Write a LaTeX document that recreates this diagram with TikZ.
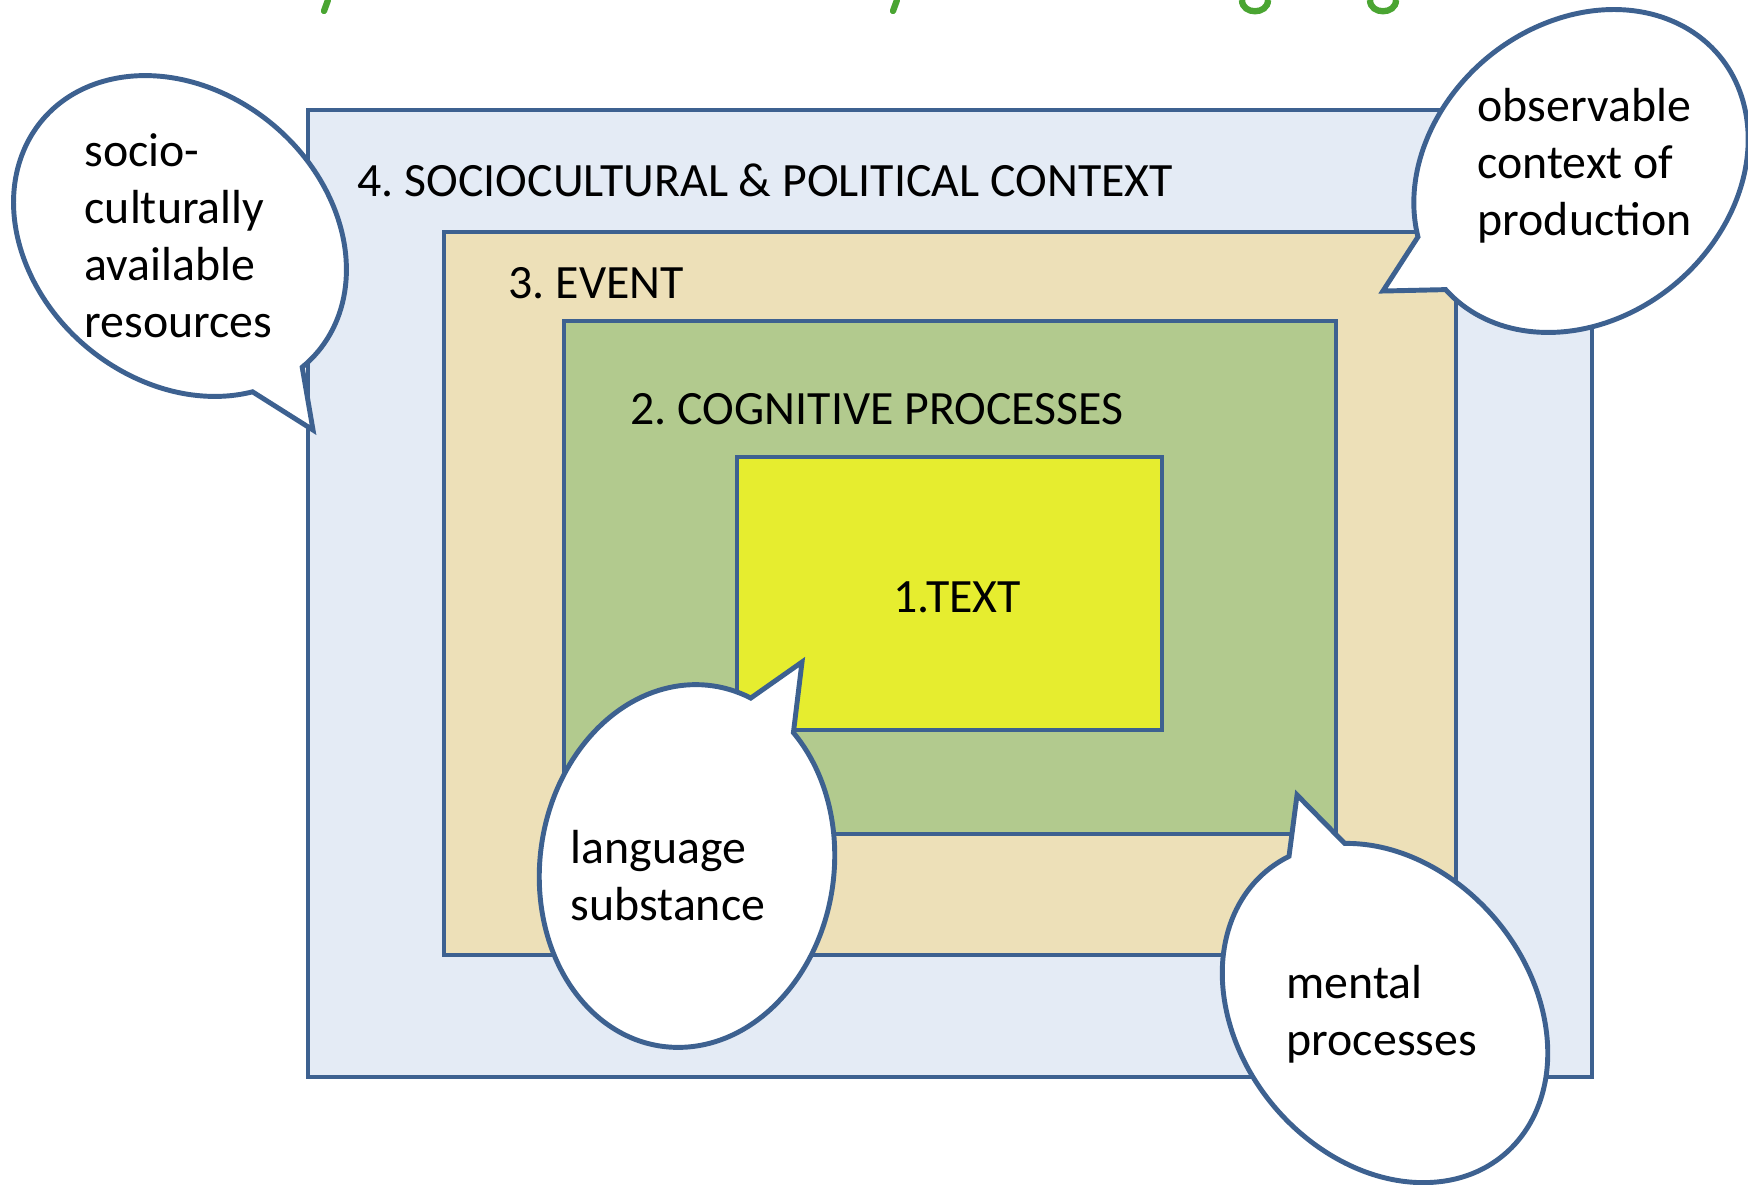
\documentclass[tikz,border=0pt]{standalone}
\usepackage{fontspec}
\setmainfont{Carlito}
\frenchspacing
\usetikzlibrary{positioning}
\definecolor{edgeblue}{HTML}{3D6190}
\definecolor{ctxblue}{HTML}{E4EBF5}
\definecolor{eventtan}{HTML}{EDE0B8}
\definecolor{cogngreen}{HTML}{B2CA8E}
\definecolor{textyellow}{HTML}{E6ED2F}
\definecolor{titlegreen}{HTML}{4AA532}
\tikzset{layer/.style = {draw = edgeblue, line width = 1.4pt}}
\tikzset{bubble/.style = {draw = edgeblue, fill = white, line width = 1.4pt}}
\tikzset{lbl/.style = {inner sep = 0, anchor = base west, font = \fontsize{13.6}{16.2}\selectfont}}
\tikzset{note/.style = {lbl, align = left}}

\begin{document}
\begin{tikzpicture}[x = 0.01cm, y = -0.01cm]
      \useasboundingbox (0, 0) rectangle (1748, 1184);
      \draw [titlegreen, line width = 1.8pt, line cap = round] (328, 0) -- (324, 11);
      \draw [titlegreen, line width = 1.8pt, line cap = round] (897, 0) -- (893, 11);
      \draw [titlegreen, line width = 1.8pt] (1242, 0) .. controls (1242, 15) and (1268, 15) .. (1268, 0);
      \draw [titlegreen, line width = 1.8pt] (1370, 0) .. controls (1370, 15) and (1396, 15) .. (1396, 0);
      \draw [layer, fill = ctxblue] (308, 110) rectangle (1592, 1077);
      \draw [layer, fill = eventtan] (444, 232) rectangle (1456, 955);
      \draw [layer, fill = cogngreen] (564, 321) rectangle (1336, 834);
      \draw [layer, fill = textyellow] (737, 457) rectangle (1162, 730);
      \node [lbl] (ctx) at (357, 196) {4. SOCIOCULTURAL \& POLITICAL CONTEXT};
      \node [lbl] (event) at (508, 298) {3. EVENT};
      \node [lbl] (cogn) at (630, 424) {2. COGNITIVE PROCESSES};
      \node [lbl, anchor = base] (text) at (957, 612) {1.TEXT};
      \begin{scope}[shift = {(180, 236)}, rotate = -40]
        \draw [bubble] (30.1:180 and 145) arc [start angle = 30.1, end angle = 368.7, x radius = 180, y radius = 145] -- (226.6, 63.1) -- cycle;
      \end{scope}
      \begin{scope}[shift = {(1581, 171)}, rotate = 40]
        \draw [bubble] (201.7:180 and 147) arc [start angle = 201.7, end angle = 538.5, x radius = 180, y radius = 147] -- (-228.9, -35.4) -- cycle;
      \end{scope}
      \begin{scope}[shift = {(687, 866)}, rotate = -8]
        \draw [bubble] (306.2:147 and 182) arc [start angle = 306.2, end angle = 645.7, x radius = 147, y radius = 182] -- (85.5, -218) -- cycle;
      \end{scope}
      \begin{scope}[shift = {(1385, 1013)}, rotate = -50]
        \draw [bubble] (212.6:185 and 145) arc [start angle = 212.6, end angle = 550.8, x radius = 185, y radius = 145] -- (-223.6, -72.8) -- cycle;
      \end{scope}
      \node [note] (resources) at (84, 337) {socio-\\culturally\\available\\resources};
      \node [note] (observable) at (1477, 235) {observable\\context of\\production};
      \node [note] (language) at (570, 920) {language\\substance};
      \node [note] (mental) at (1286, 1055) {mental\\processes};
    \end{tikzpicture}
\end{document}
